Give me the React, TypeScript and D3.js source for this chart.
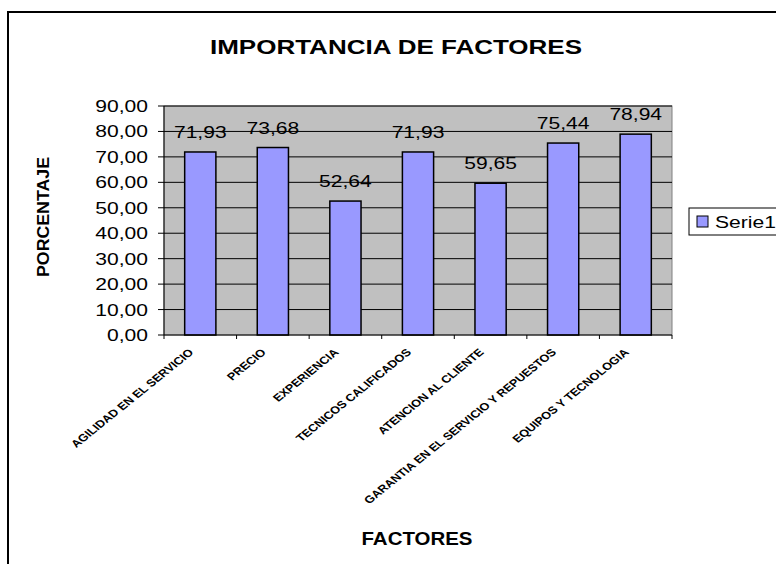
import React from "react";
import * as d3 from "d3";

const categories = [
  "AGILIDAD EN EL SERVICIO",
  "PRECIO",
  "EXPERIENCIA",
  "TECNICOS CALIFICADOS",
  "ATENCION AL CLIENTE",
  "GARANTIA EN EL SERVICIO Y REPUESTOS",
  "EQUIPOS Y TECNOLOGIA",
];
const values = [71.93, 73.68, 52.64, 71.93, 59.65, 75.44, 78.94];
const yTicks = [0, 10, 20, 30, 40, 50, 60, 70, 80, 90];
const seriesName = "Serie1";
const title = "IMPORTANCIA DE FACTORES";
const xTitle = "FACTORES";
const yTitle = "PORCENTAJE";

const FONT = "'Liberation Sans', Arial, sans-serif";
const SX = 1.24;

export default function App() {
  const left = 164, right = 672, top = 106, bottom = 335;
  const x = d3.scaleBand<string>().domain(categories).range([left, right]).padding(0);
  const y = d3.scaleLinear().domain([0, 90]).range([bottom, top]);
  const step = x.step();
  const barW = step * 0.43;
  const fmt = (v: number) => v.toFixed(2).replace(".", ",");

  return (
    <svg
      width={776}
      height={564}
      style={{ position: "absolute", left: 0, top: 0, background: "#fff" }}
      fontFamily={FONT}
    >
      <rect x={8} y={12} width={800} height={600} fill="#fff" stroke="#000" strokeWidth={2} />
      <text x={396} y={54} fontSize={21} fontWeight="bold" textAnchor="middle" textLength={372} lengthAdjust="spacingAndGlyphs">
        {title}
      </text>
      {/* plot area */}
      <rect x={left} y={top} width={right - left} height={bottom - top} fill="#C0C0C0" stroke="#808080" strokeWidth={1} />
      {yTicks.map((t) => (
        <g key={t}>
          {t > 0 && <line x1={left} x2={right} y1={y(t)} y2={y(t)} stroke="#000" strokeWidth={1} />}
          <line x1={left - 6} x2={left} y1={y(t)} y2={y(t)} stroke="#000" strokeWidth={1} />
          <g transform={`translate(148,${y(t) + 6}) scale(${SX},1)`}>
            <text fontSize={17} textAnchor="end">{fmt(t)}</text>
          </g>
        </g>
      ))}
      {/* bars */}
      {values.map((v, i) => {
        const cx = (x(categories[i]) as number) + step / 2;
        return (
          <g key={i}>
            <rect x={cx - barW / 2} y={y(v)} width={barW} height={y(0) - y(v)} fill="#9999FF" stroke="#000" strokeWidth={1.5} />
            <g transform={`translate(${cx},${y(v) - 14}) scale(${SX},1)`}>
              <text fontSize={17} textAnchor="middle">{fmt(v)}</text>
            </g>
          </g>
        );
      })}
      {/* axes */}
      <line x1={left} x2={left} y1={top} y2={bottom} stroke="#000" strokeWidth={1} />
      <line x1={left} x2={right} y1={bottom} y2={bottom} stroke="#000" strokeWidth={1} />
      {d3.range(categories.length + 1).map((i) => (
        <line key={i} x1={left + i * step} x2={left + i * step} y1={bottom} y2={bottom + 4} stroke="#000" strokeWidth={1} />
      ))}
      {categories.map((c, i) => {
        const cx = (x(c) as number) + step / 2;
        return (
          <g key={c} transform={`translate(${cx - 6},${353}) scale(${SX},1) rotate(-45)`}>
            <text fontSize={10.3} fontWeight="bold" textAnchor="end">{c}</text>
          </g>
        );
      })}
      {/* axis titles */}
      <text x={417} y={545} fontSize={18} fontWeight="bold" textAnchor="middle" textLength={111} lengthAdjust="spacingAndGlyphs">
        {xTitle}
      </text>
      <text
        transform={`translate(49,217) rotate(-90)`}
        fontSize={16}
        fontWeight="bold"
        textAnchor="middle"
        textLength={120}
        lengthAdjust="spacingAndGlyphs"
      >
        {yTitle}
      </text>
      {/* legend */}
      <rect x={689} y={208} width={120} height={27} fill="#fff" stroke="#000" strokeWidth={1} />
      <rect x={697} y={216} width={11} height={11} fill="#9999FF" stroke="#000" strokeWidth={1} />
      <g transform={`translate(715,228) scale(${SX},1)`}>
        <text fontSize={17}>{seriesName}</text>
      </g>
    </svg>
  );
}
